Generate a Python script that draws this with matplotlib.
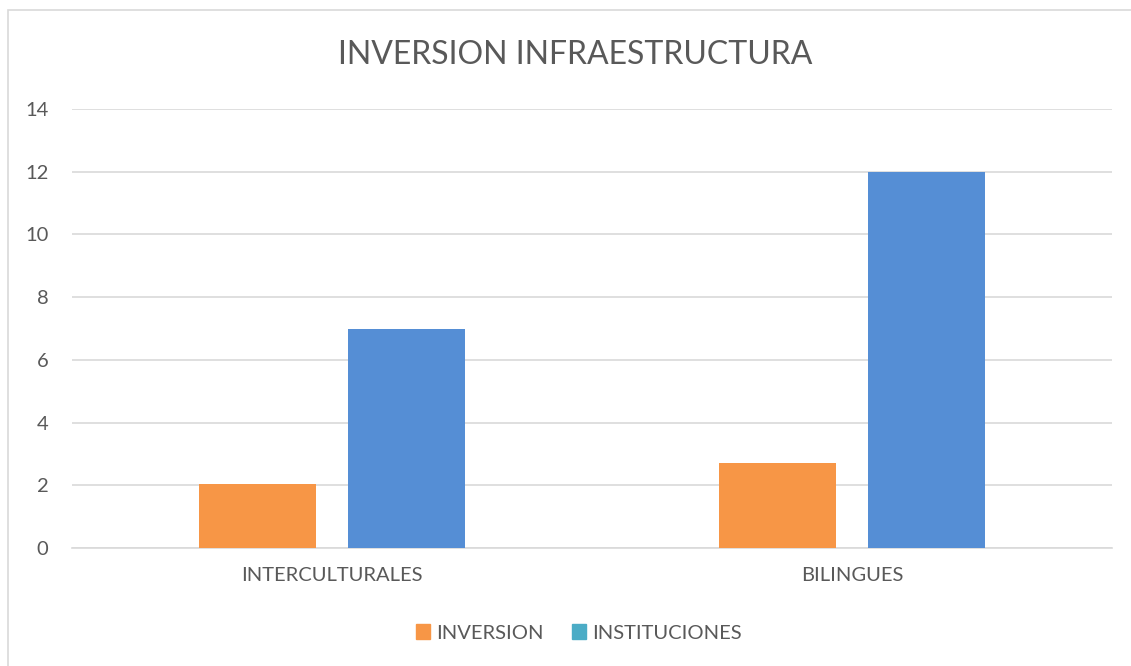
import matplotlib
matplotlib.use("Agg")
import matplotlib.pyplot as plt
import numpy as np
from matplotlib.patches import Patch, Rectangle

categorias = ["INTERCULTURALES", "BILINGUES"]
inversion = [2.03, 2.72]
instituciones = [7, 12]
series = ["INVERSION", "INSTITUCIONES"]
yticks = [0, 2, 4, 6, 8, 10, 12, 14]

plt.rcParams['font.family'] = ['Lato', 'DejaVu Sans']
gris = '#595959'

fig = plt.figure(figsize=(11.31, 6.66), dpi=100)
# borde del area del grafico
fig.patches.append(Rectangle((8/1131, -0.1), 1.2, 1 - 10/666 + 0.1, transform=fig.transFigure,
                             fill=False, edgecolor='#d9d9d9', linewidth=1.2))
ax = fig.add_axes([72/1131, 1 - 548/666, 1040/1131, 439/666])

x = np.arange(len(categorias))
ancho = 0.225
ax.bar(x - 0.1433, inversion, ancho, color='#f79646', zorder=3)
ax.bar(x + 0.1433, instituciones, ancho, color='#558ed5', zorder=3)

ax.set_xlim(-0.5, 1.5)
ax.set_ylim(0, 14)
ax.set_yticks(yticks)
ax.set_xticks(x)
ax.set_xticklabels(categorias)
ax.yaxis.grid(True, color='#d9d9d9', linewidth=1.2, zorder=0)
for s in ['top', 'right', 'left']:
    ax.spines[s].set_visible(False)
ax.spines['bottom'].set_color('#d9d9d9')
ax.spines['bottom'].set_linewidth(1.2)
ax.tick_params(length=0, labelsize=14.5, labelcolor=gris)
ax.tick_params(axis='y', pad=17)
ax.tick_params(axis='x', pad=14)

fig.text(575/1131, 1 - 55/666, "INVERSION INFRAESTRUCTURA", ha='center', va='center',
         fontsize=23, color=gris)

handles = [Patch(color='#f79646'), Patch(color='#4bacc6')]
fig.legend(handles, series, loc='center', bbox_to_anchor=(579/1131, 1 - 633/666), ncol=2,
           frameon=False, fontsize=14.5, handlelength=0.7, handleheight=0.7,
           handletextpad=0.3, columnspacing=1.4, labelcolor=gris)

fig.savefig("out.png", dpi=100)
